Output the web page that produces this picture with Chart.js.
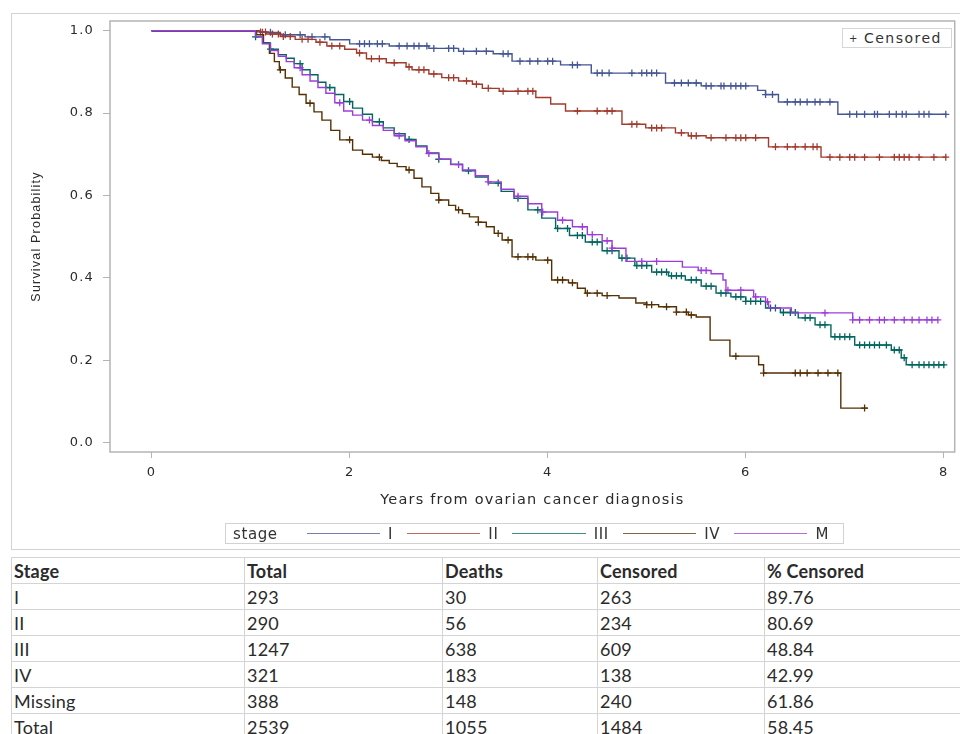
<!DOCTYPE html>
<html>
<head>
<meta charset="utf-8">
<script src="https://cdn.jsdelivr.net/npm/chart.js@4.4.1/dist/chart.umd.min.js"></script>
<style>
  body { margin: 0; background: #fff; width: 960px; height: 734px; overflow: hidden; position: relative; font-family: "DejaVu Sans", sans-serif; }
  #marco { position: absolute; left: 11px; top: 13px; width: 980px; height: 537px; border: 1px solid #d2d2d2; box-sizing: border-box; }
  #kmChart { position: absolute; left: 0; top: 0; }
  #censorBox { position: absolute; left: 842px; top: 28px; width: 110px; height: 20px; box-sizing: border-box; border: 1px solid #d6d6d6; background: #fff;
               font-size: 14px; color: #333; letter-spacing: 1.5px; line-height: 18px; padding-left: 6px; white-space: nowrap; }
  #censorBox .plus { font-size: 10px; margin-right: 5px; position: relative; top: -1px; }
  #leyenda { position: absolute; left: 225px; top: 523px; width: 619px; height: 21px; box-sizing: border-box; border: 1px solid #d2d2d2;
             display: flex; align-items: center; font-size: 15px; letter-spacing: 0.6px; color: #333; padding-left: 7px; white-space: nowrap; }
  #leyenda .titulo { margin-right: 29px; }
  #leyenda .linea { width: 76px; height: 1px; opacity: 0.75; }
  #leyenda .nombre { margin-left: 8px; margin-right: 14px; }
  #tabla { position: absolute; left: 11px; top: 557px; width: 1013px; table-layout: fixed; border-collapse: collapse; font-family: Lato, sans-serif; font-size: 18px; letter-spacing: 0.2px; color: #2b2b2b; }
  #tabla td { border: 1px solid #d4d4d4; height: 26px; padding: 0 0 0 2px; box-sizing: border-box; vertical-align: middle; white-space: nowrap; }
  #tabla tr:first-child td { font-weight: bold; }
</style>
</head>
<body>
<div id="marco"></div>
<canvas id="kmChart" width="960" height="550"></canvas>
<div id="censorBox"><span class="plus">+</span>Censored</div>
<div id="leyenda"></div>
<table id="tabla"></table>
<script>
// Estadios (orden de la leyenda)
const estadios = ['I', 'II', 'III', 'IV', 'M'];

// Curvas Kaplan-Meier: tiempo (años) y supervivencia
const tiemposI = [0, 1.1, 1.3, 1.55, 1.8, 2.0, 2.4, 2.8, 3.1, 3.45, 3.64, 4.13, 4.44, 5.19, 5.55, 6.12, 6.2, 6.33, 6.93, 8.03];
const survI    = [1, 0.996, 0.99, 0.985, 0.978, 0.968, 0.963, 0.957, 0.95, 0.944, 0.926, 0.917, 0.897, 0.873, 0.866, 0.855, 0.845, 0.827, 0.797, 0.797];

const tiemposII = [0, 1.09, 1.16, 1.3, 1.45, 1.66, 1.77, 1.95, 2.07, 2.17, 2.37, 2.57, 2.63, 2.8, 2.93, 3.1, 3.24, 3.34, 3.51, 3.88, 4.03, 4.18, 4.75, 4.99, 5.29, 5.42, 5.6, 6.23, 6.76, 8.03];
const survII    = [1, 0.997, 0.992, 0.986, 0.979, 0.972, 0.963, 0.955, 0.946, 0.932, 0.922, 0.912, 0.905, 0.895, 0.886, 0.878, 0.87, 0.86, 0.853, 0.838, 0.822, 0.805, 0.773, 0.764, 0.752, 0.745, 0.74, 0.718, 0.693, 0.693];

const tiemposIII = [0, 1.05, 1.12, 1.2, 1.28, 1.36, 1.44, 1.52, 1.6, 1.68, 1.76, 1.85, 1.94, 2.03, 2.13, 2.23, 2.34, 2.45, 2.56, 2.67, 2.78, 2.9, 3.02, 3.14, 3.27, 3.4, 3.53, 3.66, 3.8, 3.94, 4.08, 4.22, 4.38, 4.55, 4.72, 4.88, 5.05, 5.22, 5.39, 5.55, 5.7, 5.85, 6.0, 6.2, 6.35, 6.53, 6.7, 6.86, 7.1, 7.47, 7.57, 7.62, 8.01];
const survIII    = [1, 0.985, 0.97, 0.955, 0.942, 0.933, 0.92, 0.905, 0.893, 0.875, 0.862, 0.845, 0.828, 0.812, 0.797, 0.779, 0.764, 0.75, 0.736, 0.72, 0.703, 0.688, 0.676, 0.66, 0.645, 0.63, 0.61, 0.593, 0.565, 0.545, 0.52, 0.503, 0.487, 0.466, 0.448, 0.43, 0.414, 0.405, 0.395, 0.38, 0.363, 0.354, 0.343, 0.327, 0.316, 0.303, 0.286, 0.257, 0.237, 0.225, 0.206, 0.189, 0.189];

const tiemposIV = [0, 1.06, 1.13, 1.19, 1.24, 1.29, 1.35, 1.42, 1.49, 1.56, 1.64, 1.72, 1.81, 1.9, 2.03, 2.13, 2.23, 2.32, 2.4, 2.48, 2.57, 2.65, 2.73, 2.82, 2.9, 3.0, 3.07, 3.14, 3.21, 3.3, 3.38, 3.46, 3.54, 3.64, 3.88, 4.04, 4.21, 4.3, 4.38, 4.55, 4.72, 4.89, 5.0, 5.12, 5.3, 5.42, 5.5, 5.64, 5.84, 6.13, 6.18, 6.96, 7.23];
const survIV    = [1, 0.99, 0.97, 0.945, 0.925, 0.905, 0.885, 0.863, 0.845, 0.824, 0.803, 0.783, 0.758, 0.735, 0.71, 0.7, 0.693, 0.685, 0.678, 0.67, 0.662, 0.642, 0.621, 0.605, 0.589, 0.576, 0.565, 0.556, 0.548, 0.535, 0.524, 0.508, 0.492, 0.451, 0.443, 0.395, 0.388, 0.375, 0.363, 0.357, 0.351, 0.339, 0.335, 0.33, 0.317, 0.31, 0.305, 0.249, 0.21, 0.189, 0.169, 0.084, 0.084];

const tiemposM = [0, 1.05, 1.12, 1.2, 1.28, 1.36, 1.44, 1.52, 1.6, 1.68, 1.76, 1.85, 1.94, 2.03, 2.13, 2.23, 2.34, 2.45, 2.56, 2.67, 2.78, 2.9, 3.02, 3.14, 3.27, 3.4, 3.53, 3.66, 3.8, 3.94, 4.1, 4.25, 4.4, 4.55, 4.65, 4.79, 5.36, 5.52, 5.65, 5.77, 5.8, 6.08, 6.2, 6.23, 6.46, 7.08, 7.94];
const survM    = [1, 0.985, 0.968, 0.952, 0.938, 0.925, 0.91, 0.893, 0.878, 0.862, 0.848, 0.825, 0.805, 0.795, 0.783, 0.77, 0.758, 0.745, 0.733, 0.718, 0.702, 0.688, 0.675, 0.662, 0.648, 0.633, 0.615, 0.598, 0.58, 0.56, 0.54, 0.524, 0.505, 0.49, 0.472, 0.44, 0.426, 0.418, 0.41, 0.395, 0.37, 0.354, 0.342, 0.327, 0.315, 0.298, 0.298];

// Tiempos censurados (marcas +)
const censI = [1.12, 1.2, 1.35, 1.5, 1.62, 1.75, 2.1, 2.15, 2.2, 2.28, 2.33, 2.5, 2.58, 2.65, 2.7, 2.78, 2.85, 3.0, 3.05, 3.15, 3.28, 3.38, 3.55, 3.6, 3.72, 3.82, 3.9, 4.0, 4.05, 4.25, 4.3, 4.5, 4.55, 4.62, 4.85, 4.95, 5.0, 5.05, 5.1, 5.28, 5.35, 5.42, 5.5, 5.6, 5.65, 5.75, 5.78, 5.85, 5.9, 5.95, 6.0, 6.2, 6.27, 6.42, 6.5, 6.55, 6.62, 6.7, 6.75, 6.85, 7.05, 7.12, 7.2, 7.3, 7.33, 7.45, 7.52, 7.58, 7.62, 7.75, 7.8, 7.85, 8.02];
const censII = [1.1, 1.15, 1.22, 1.28, 1.33, 1.4, 1.52, 1.58, 1.7, 1.82, 1.9, 2.1, 2.22, 2.3, 2.45, 2.6, 2.7, 2.75, 2.85, 3.0, 3.05, 3.18, 3.28, 3.4, 3.55, 3.7, 3.8, 3.85, 4.3, 4.5, 4.6, 4.65, 4.85, 4.9, 5.05, 5.1, 5.15, 5.35, 5.45, 5.5, 5.65, 5.8, 5.9, 5.95, 6.0, 6.1, 6.3, 6.42, 6.5, 6.6, 6.68, 6.72, 6.85, 6.95, 7.05, 7.1, 7.2, 7.35, 7.5, 7.55, 7.6, 7.65, 7.75, 7.9, 8.02];
const censIII = [1.05, 1.2, 1.5, 1.8, 2.0, 2.3, 2.6, 2.9, 3.2, 3.5, 3.7, 3.9, 4.1, 4.2, 4.3, 4.35, 4.45, 4.5, 4.6, 4.65, 4.75, 4.8, 4.9, 4.95, 5.0, 5.1, 5.15, 5.2, 5.25, 5.3, 5.35, 5.45, 5.5, 5.6, 5.65, 5.75, 5.8, 5.9, 5.95, 6.0, 6.05, 6.1, 6.15, 6.25, 6.3, 6.38, 6.45, 6.5, 6.6, 6.65, 6.75, 6.8, 6.9, 6.95, 7.0, 7.05, 7.15, 7.2, 7.25, 7.3, 7.35, 7.42, 7.5, 7.55, 7.6, 7.68, 7.75, 7.8, 7.85, 7.9, 7.95, 8.0];
const censIV = [1.3, 1.6, 2.0, 2.3, 2.6, 2.9, 3.1, 3.3, 3.5, 3.6, 3.7, 3.8, 3.85, 4.0, 4.1, 4.15, 4.25, 4.4, 4.5, 4.6, 5.0, 5.05, 5.2, 5.3, 5.4, 5.45, 5.9, 6.18, 6.5, 6.55, 6.62, 6.73, 6.83, 6.93, 7.2];
const censM = [1.5, 1.9, 2.2, 2.5, 2.8, 3.1, 3.4, 3.7, 3.95, 4.15, 4.35, 4.45, 4.6, 4.65, 4.95, 5.1, 5.55, 5.6, 5.82, 5.95, 6.1, 6.22, 6.8, 7.08, 7.15, 7.25, 7.35, 7.4, 7.5, 7.6, 7.68, 7.75, 7.83, 7.88, 7.94];

// Ejes
const ticksX = [0, 2, 4, 6, 8];
const ticksY = [0, 0.2, 0.4, 0.6, 0.8, 1.0];

// Tabla resumen
const tablaEncabezado = ['Stage', 'Total', 'Deaths', 'Censored', '% Censored'];
const tablaEstadio = ['I', 'II', 'III', 'IV', 'Missing', 'Total'];
const tablaTotal = [293, 290, 1247, 321, 388, 2539];
const tablaMuertes = [30, 56, 638, 183, 148, 1055];
const tablaCensurados = [263, 234, 609, 138, 240, 1484];
const tablaPorcentaje = ['89.76', '80.69', '48.84', '42.99', '61.86', '58.45'];

const colores = {
    I: '#445694',
    II: '#a23a2e',
    III: '#01665e',
    IV: '#543005',
    M: '#9d3cdb'
};

let chart;

function survEn(tiempos, surv, t) {
    let s = surv[0];
    for (let i = 0; i < tiempos.length; i++) {
        if (tiempos[i] <= t) s = surv[i];
    }
    return s;
}

function curva(nombre, tiempos, surv, orden) {
    return {
        label: nombre,
        data: tiempos.map((t, i) => ({ x: t, y: surv[i] })),
        borderColor: colores[nombre],
        borderWidth: 1.4,
        stepped: 'before',
        pointRadius: 0,
        fill: false,
        order: orden
    };
}

function censuras(nombre, tiempos, surv, cens, orden) {
    return {
        label: nombre + ' censored',
        data: cens.map(t => ({ x: t, y: survEn(tiempos, surv, t) })),
        borderColor: colores[nombre],
        backgroundColor: colores[nombre],
        borderWidth: 1.3,
        showLine: false,
        pointStyle: 'cross',
        pointRadius: 3.5,
        order: orden
    };
}

const marcoPlugin = {
    id: 'marco',
    beforeDraw(chart) {
        // texto un poco espaciado como en el original
        chart.ctx.letterSpacing = '1.2px';
    },
    beforeDatasetsDraw(chart) {
        const { ctx, chartArea: a } = chart;
        ctx.save();
        ctx.strokeStyle = '#b4b4b4';
        ctx.lineWidth = 1.5;
        ctx.strokeRect(a.left, a.top, a.right - a.left, a.bottom - a.top);
        ctx.restore();
    }
};

function crearGrafica() {
    const ctx = document.getElementById('kmChart').getContext('2d');

    chart = new Chart(ctx, {
        type: 'line',
        data: {
            datasets: [
                curva('M', tiemposM, survM, 0),
                censuras('M', tiemposM, survM, censM, 0),
                curva('III', tiemposIII, survIII, 1),
                censuras('III', tiemposIII, survIII, censIII, 1),
                curva('IV', tiemposIV, survIV, 2),
                censuras('IV', tiemposIV, survIV, censIV, 2),
                curva('II', tiemposII, survII, 3),
                censuras('II', tiemposII, survII, censII, 3),
                curva('I', tiemposI, survI, 4),
                censuras('I', tiemposI, survI, censI, 4)
            ]
        },
        options: {
            responsive: false,
            animation: false,
            events: [],
            layout: {
                padding: { top: 21, right: 3, left: 0, bottom: 0 }
            },
            plugins: {
                legend: { display: false },
                tooltip: { enabled: false }
            },
            scales: {
                x: {
                    type: 'linear',
                    min: -0.42,
                    max: 8.11,
                    afterFit: s => { s.height = 98; },
                    afterBuildTicks: s => { s.ticks = ticksX.map(v => ({ value: v })); },
                    ticks: {
                        font: { family: 'DejaVu Sans', size: 13 },
                        color: '#2a2a2a',
                        padding: 7,
                        callback: v => v
                    },
                    grid: { drawOnChartArea: false, tickLength: 6, color: '#b4b4b4' },
                    border: { display: false },
                    title: {
                        display: true,
                        text: 'Years from ovarian cancer diagnosis',
                        font: { family: 'DejaVu Sans', size: 14.5 },
                        color: '#2a2a2a',
                        padding: { top: 0, bottom: 41 }
                    }
                },
                y: {
                    min: -0.0226,
                    max: 1.0235,
                    afterFit: s => { s.width = 110; },
                    afterBuildTicks: s => { s.ticks = ticksY.map(v => ({ value: v })); },
                    ticks: {
                        font: { family: 'DejaVu Sans', size: 13 },
                        color: '#2a2a2a',
                        padding: 9,
                        callback: v => v.toFixed(1)
                    },
                    grid: { drawOnChartArea: false, tickLength: 7, color: '#b4b4b4' },
                    border: { display: false },
                    title: {
                        display: true,
                        text: 'Survival Probability',
                        font: { family: 'Liberation Sans', size: 12.5 },
                        color: '#2a2a2a',
                        padding: { top: 29, bottom: 0 }
                    }
                }
            }
        },
        plugins: [marcoPlugin]
    });
}

function crearLeyenda() {
    const caja = document.getElementById('leyenda');
    let html = '<span class="titulo">stage</span>';
    estadios.forEach(e => {
        html += '<span class="linea" style="background:' + colores[e] + '"></span>';
        html += '<span class="nombre">' + e + '</span>';
    });
    caja.innerHTML = html;
}

function crearTabla() {
    const tabla = document.getElementById('tabla');
    const anchos = [233, 198, 155, 167, 260];
    let html = '<colgroup>' + anchos.map(a => '<col style="width:' + a + 'px">').join('') + '</colgroup>';
    html += '<tr>' + tablaEncabezado.map(h => '<td>' + h + '</td>').join('') + '</tr>';
    tablaEstadio.forEach((e, i) => {
        html += '<tr><td>' + e + '</td><td>' + tablaTotal[i] + '</td><td>' + tablaMuertes[i] +
            '</td><td>' + tablaCensurados[i] + '</td><td>' + tablaPorcentaje[i] + '</td></tr>';
    });
    tabla.innerHTML = html;
}

function inicializar() {
    crearGrafica();
    crearLeyenda();
    crearTabla();
}

// INICIALIZAR
window.addEventListener('load', inicializar);
</script>
</body>
</html>
